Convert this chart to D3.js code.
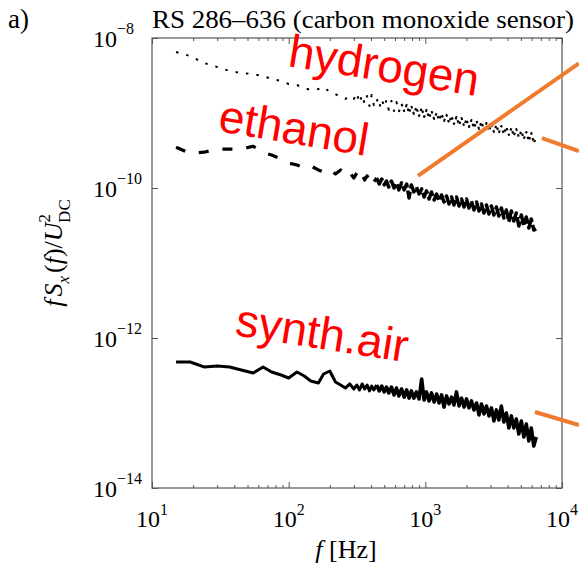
<!DOCTYPE html>
<html>
<head>
<meta charset="utf-8">
<script src="https://cdn.jsdelivr.net/npm/d3@7"></script>
<style>
  body { margin: 0; background: #fff; }
  text { font-family: "Liberation Serif", "DejaVu Serif", serif; }
</style>
</head>
<body>
<script>
// frequency grid [Hz], shared by the three spectra
const freqs = [15, 19, 24, 30, 37, 45, 55, 65, 75, 88, 100, 115, 130, 145, 165, 180, 200, 220, 240, 260, 280, 300,
    315, 330, 345, 360, 375, 390, 405, 420, 440, 460, 480, 500, 520, 540, 565, 590, 615, 640, 670, 700, 730, 760, 790,
    825, 860, 900, 940, 980, 1020, 1065, 1110, 1160, 1210, 1260, 1315, 1370, 1430, 1490, 1555, 1620, 1690, 1765, 1840,
    1920, 2000, 2085, 2175, 2270, 2370, 2470, 2575, 2685, 2800, 2920, 3045, 3175, 3310, 3450, 3600, 3755, 3915, 4085,
    4260, 4440, 4630, 4830, 5040, 5255, 5480, 5715, 5960, 6215, 6480];

const hydrogen = [6.5e-9, 5.75e-9, 4.64e-9, 4.11e-9, 3.63e-9, 3.41e-9, 3.31e-9, 3.11e-9, 2.84e-9, 2.67e-9, 2.44e-9,
    2.36e-9, 2.15e-9, 2.03e-9, 2.09e-9, 2.22e-9, 1.91e-9, 1.79e-9, 1.63e-9, 1.54e-9, 1.69e-9, 1.54e-9,
    1.85e-9, 1.36e-9, 1.74e-9, 1.32e-9, 1.69e-9, 1.24e-9, 1.74e-9, 1.28e-9, 1.58e-9, 1.17e-9,
    1.54e-9, 1.20e-9, 1.49e-9, 1.10e-9, 1.45e-9, 1.06e-9, 1.40e-9, 1.03e-9, 1.32e-9, 1.06e-9,
    1.28e-9, 1.00e-9, 1.24e-9, 9.72e-10, 1.20e-9, 9.14e-10, 1.17e-9, 8.86e-10, 1.10e-9, 8.58e-10,
    1.06e-9, 8.32e-10, 1.00e-9, 8.07e-10, 9.72e-10, 7.83e-10, 9.42e-10, 7.36e-10, 9.14e-10, 7.14e-10,
    8.86e-10, 6.92e-10, 8.58e-10, 6.71e-10, 8.32e-10, 6.50e-10, 8.07e-10, 6.31e-10, 7.83e-10, 6.12e-10,
    7.59e-10, 5.93e-10, 7.36e-10, 5.75e-10, 7.14e-10, 5.58e-10, 6.92e-10, 5.41e-10, 6.71e-10, 5.25e-10,
    6.50e-10, 5.09e-10, 6.31e-10, 4.94e-10, 6.12e-10, 4.79e-10, 5.75e-10, 4.50e-10, 5.58e-10, 4.24e-10,
    5.41e-10, 3.98e-10, 4.79e-10];

const ethanol = [3.5e-10, 2.9e-10, 3.0e-10, 3.3e-10, 3.3e-10, 3.3e-10, 3.6e-10, 3.0e-10, 2.75e-10, 2.44e-10, 2.15e-10,
    2.03e-10, 1.85e-10, 1.97e-10, 1.74e-10, 1.63e-10, 1.79e-10, 1.54e-10, 1.74e-10, 1.45e-10, 1.59e-10, 1.36e-10,
    1.59e-10, 1.32e-10, 1.49e-10, 1.28e-10, 1.45e-10, 1.24e-10, 1.40e-10, 1.20e-10, 1.36e-10, 1.13e-10,
    1.32e-10, 1.10e-10, 1.24e-10, 1.03e-10, 1.24e-10, 1.00e-10, 1.17e-10, 9.42e-11, 1.17e-10, 9.42e-11,
    1.13e-10, 7.36e-11, 1.10e-10, 8.86e-11, 1.03e-10, 8.32e-11, 9.72e-11, 7.59e-11, 9.14e-11, 7.14e-11,
    8.86e-11, 6.92e-11, 8.32e-11, 6.71e-11, 8.07e-11, 6.50e-11, 7.83e-11, 6.12e-11, 7.59e-11, 5.93e-11,
    7.59e-11, 5.75e-11, 7.14e-11, 5.58e-11, 7.14e-11, 5.41e-11, 6.71e-11, 5.09e-11, 6.50e-11, 4.94e-11,
    6.12e-11, 4.64e-11, 5.93e-11, 4.50e-11, 5.75e-11, 4.37e-11, 5.58e-11, 4.24e-11, 5.41e-11, 3.98e-11,
    5.09e-11, 3.52e-11, 4.94e-11, 3.63e-11, 4.64e-11, 3.11e-11, 4.37e-11, 3.11e-11, 4.11e-11, 2.93e-11,
    3.86e-11, 2.75e-11, 2.84e-11];

const synthAir = [4.79e-13, 4.79e-13, 4.11e-13, 4.24e-13, 4.11e-13, 3.74e-13, 3.41e-13, 4.11e-13, 3.52e-13, 3.21e-13,
    2.93e-13, 3.52e-13, 3.11e-13, 2.67e-13, 2.51e-13, 3.31e-13, 3.63e-13, 2.59e-13, 2.36e-13, 2.15e-13, 2.44e-13, 2.09e-13,
    2.36e-13, 2.03e-13, 2.44e-13, 2.09e-13, 2.36e-13, 1.97e-13, 2.29e-13, 2.03e-13, 2.36e-13, 1.97e-13,
    2.29e-13, 1.91e-13, 2.22e-13, 1.85e-13, 2.22e-13, 1.74e-13, 2.15e-13, 1.69e-13, 2.09e-13, 1.63e-13,
    2.03e-13, 1.58e-13, 1.97e-13, 1.58e-13, 1.91e-13, 1.54e-13, 2.84e-13, 1.49e-13, 1.91e-13, 1.45e-13,
    1.85e-13, 1.40e-13, 1.79e-13, 1.36e-13, 1.74e-13, 1.20e-13, 1.69e-13, 1.32e-13, 1.63e-13, 1.28e-13,
    1.91e-13, 1.24e-13, 1.58e-13, 1.20e-13, 1.54e-13, 1.17e-13, 1.45e-13, 1.10e-13, 1.36e-13, 9.42e-14,
    1.32e-13, 9.72e-14, 1.24e-13, 9.14e-14, 1.17e-13, 7.83e-14, 1.10e-13, 8.07e-14, 1.24e-13, 7.59e-14,
    1.00e-13, 6.31e-14, 9.14e-14, 6.31e-14, 8.32e-14, 5.25e-14, 7.83e-14, 4.79e-14, 7.14e-14, 4.24e-14,
    6.31e-14, 3.63e-14, 4.79e-14];

const xTicks = [10, 100, 1000, 10000];
const xTickExp = ["1", "2", "3", "4"];
const yTicks = [1e-8, 1e-10, 1e-12, 1e-14];
const yTickExp = ["\u22128", "\u221210", "\u221212", "\u221214"];

// gas labels and pointer lines (in data units)
const gasLabels = ["hydrogen", "ethanol", "synth.air"];
const pointers = [
    [[883, 1.45e-10], [13300, 4.6e-9]],
    [[7130, 4.64e-10], [13300, 3.1e-10]],
    [[6335, 1.03e-13], [13300, 6.9e-14]]
];

const W = 579, H = 569;
const margin = { top: 38, right: 17, bottom: 81, left: 152 },
    width = W - margin.left - margin.right,
    height = H - margin.top - margin.bottom;

const svg = d3.select("body").append("svg")
    .attr("width", W)
    .attr("height", H)
    .attr("xmlns", "http://www.w3.org/2000/svg");

const x = d3.scaleLog().domain([10, 1e4]).range([margin.left, margin.left + width]);
const y = d3.scaleLog().domain([1e-14, 1e-8]).range([margin.top + height, margin.top]);

// inward ticks on all four sides
function ticks(axis, tr, values, size) {
    svg.append("g")
        .attr("transform", tr)
        .call(axis.tickValues(values).tickSizeInner(-size).tickSizeOuter(0).tickFormat(""))
        .call(g => g.select(".domain").remove())
        .selectAll("line").attr("stroke", "#555");
}
const xMinor = x.ticks().filter(v => !xTicks.includes(v));
const bottomY = margin.top + height, rightX = margin.left + width;
ticks(d3.axisBottom(x), "translate(0," + bottomY + ")", xMinor, 3);
ticks(d3.axisBottom(x), "translate(0," + bottomY + ")", xTicks, 6);
ticks(d3.axisTop(x), "translate(0," + margin.top + ")", xMinor, 3);
ticks(d3.axisTop(x), "translate(0," + margin.top + ")", xTicks, 6);
ticks(d3.axisLeft(y), "translate(" + margin.left + ",0)", yTicks, 6);
ticks(d3.axisRight(y), "translate(" + rightX + ",0)", yTicks, 6);

svg.append("rect")
    .attr("x", margin.left).attr("y", margin.top)
    .attr("width", width).attr("height", height)
    .attr("fill", "none").attr("stroke", "#555").attr("stroke-width", 1.2);

// tick labels 10^n
const xl = svg.append("g").selectAll("text").data(xTicks).join("text")
    .attr("x", d => x(d))
    .attr("y", bottomY + 39)
    .attr("text-anchor", "middle")
    .attr("font-size", 24);
xl.append("tspan").text("10");
xl.append("tspan").attr("dy", -12).attr("font-size", 16).text((d, i) => xTickExp[i]);

const yl = svg.append("g").selectAll("text").data(yTicks).join("text")
    .attr("x", 93)
    .attr("y", d => y(d) + 9)
    .attr("font-size", 24);
yl.append("tspan").text("10");
yl.append("tspan").attr("dy", -13).attr("font-size", 16).text((d, i) => yTickExp[i]);

// spectra: the sparse low-frequency part and the dense high-frequency part
// are stroked separately so the dash pattern stays readable in both
const line = d3.line()
    .x(d => x(d[0]))
    .y(d => y(d[1]));

function spectrum(values, split, lowStyle, highStyle) {
    const pts = d3.zip(freqs, values);
    [[pts.slice(0, split + 1), lowStyle], [pts.slice(split), highStyle]].forEach(([seg, st]) => {
        svg.append("path")
            .datum(seg)
            .attr("d", line)
            .attr("fill", "none")
            .attr("stroke", "#000")
            .attr("stroke-width", st.w)
            .attr("stroke-linejoin", "round")
            .attr("stroke-dasharray", st.dash);
    });
}

spectrum(hydrogen, 40, { w: 2, dash: "2.5,8" }, { w: 2.1, dash: "2.5,3.5" });
spectrum(ethanol, 30, { w: 3.2, dash: "10,14" }, { w: 3.5, dash: "14,3" });
spectrum(synthAir, 30, { w: 3, dash: null }, { w: 3.6, dash: null });

// pointer lines
svg.append("g").selectAll("line").data(pointers).join("line")
    .attr("x1", d => x(d[0][0])).attr("y1", d => y(d[0][1]))
    .attr("x2", d => x(d[1][0])).attr("y2", d => y(d[1][1]))
    .attr("stroke", "#f07b2e")
    .attr("stroke-width", 4);

// red gas labels
const labelPos = [[287, 66, 9], [217, 131, 9.5], [234, 335, 9]];
svg.append("g").selectAll("text").data(gasLabels).join("text")
    .attr("transform", (d, i) => "translate(" + labelPos[i][0] + "," + labelPos[i][1] + ") rotate(" + labelPos[i][2] + ")")
    .attr("font-size", 46)
    .style("font-family", "'Liberation Sans', Arial, sans-serif")
    .attr("fill", "#ff0000")
    .text(d => d);

// titles
svg.append("text")
    .attr("x", 8).attr("y", 28)
    .attr("font-size", 27)
    .text("a)");

svg.append("text")
    .attr("x", margin.left).attr("y", 28)
    .attr("font-size", 25)
    .attr("textLength", 422)
    .attr("lengthAdjust", "spacingAndGlyphs")
    .text("RS 286\u2013636 (carbon monoxide sensor)");

const xlab = svg.append("text")
    .attr("x", 346).attr("y", 558)
    .attr("text-anchor", "middle")
    .attr("font-size", 26);
xlab.append("tspan").attr("font-style", "italic").text("f");
xlab.append("tspan").text(" [Hz]");

const ylab = svg.append("text")
    .attr("transform", "translate(62,253) rotate(-90)")
    .attr("text-anchor", "middle")
    .attr("font-size", 26);
ylab.append("tspan").attr("font-style", "italic").text("f");
ylab.append("tspan").attr("font-style", "italic").attr("dx", 3).text("S");
ylab.append("tspan").attr("font-style", "italic").attr("font-size", 17).attr("dy", 7).text("x");
ylab.append("tspan").attr("dy", -7).attr("dx", 3).text("(");
ylab.append("tspan").attr("font-style", "italic").text("f");
ylab.append("tspan").text(")/");
ylab.append("tspan").attr("font-style", "italic").text("U");
ylab.append("tspan").attr("font-size", 17).attr("dy", -12).text("2");
ylab.append("tspan").attr("font-size", 17).attr("dy", 20).attr("dx", -9).text("DC");
</script>
</body>
</html>
